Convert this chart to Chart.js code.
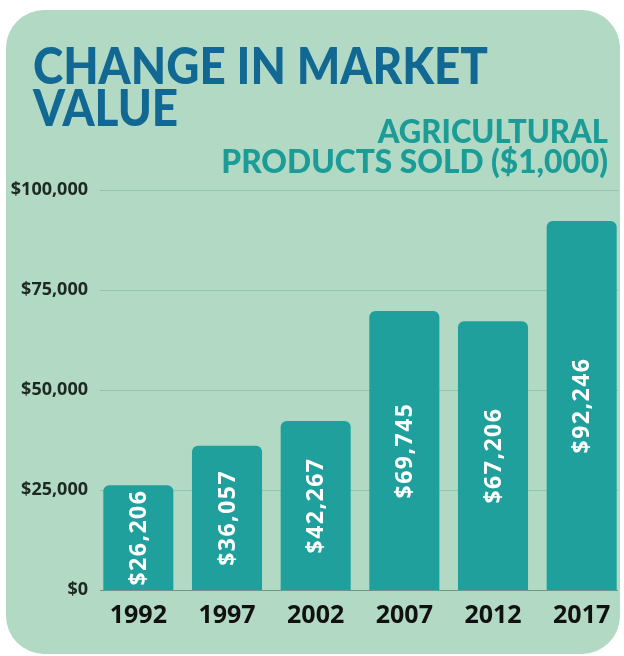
<!DOCTYPE html>
<html>
<head>
<meta charset="utf-8">
<script src="https://cdn.jsdelivr.net/npm/chart.js@4"></script>
<style>
    html, body { margin: 0; padding: 0; background: #ffffff; width: 624px; height: 656px; overflow: hidden; }
    #karte {
        position: absolute; left: 6px; top: 10px; width: 614px; height: 644px;
        background: #b2d9c4; border-radius: 38px;
    }
    #box { position: absolute; left: 0; top: 0; width: 640px; height: 656px; }
</style>
</head>
<body>
<div id="karte"></div>
<div id="box"><canvas id="chart"></canvas></div>
<script>
// Werte (in $1.000)
var jahre = ["1992", "1997", "2002", "2007", "2012", "2017"];
var werte = [26206, 36057, 42267, 69745, 67206, 92246];
var yTicks = [0, 25000, 50000, 75000, 100000];
var titel = ["CHANGE IN MARKET", "VALUE"];
var untertitel = ["AGRICULTURAL", "PRODUCTS SOLD ($1,000)"];

function geld(v) {
    return "$" + v.toLocaleString("en-US");
}

//Text etwas schmaler zeichnen (Faktor k)
function schmal(ctx, text, x, y, k) {
    ctx.save();
    ctx.translate(x, y);
    ctx.scale(k, 1);
    ctx.fillText(text, 0, 0);
    ctx.restore();
}

//Ueberschriften
var titelPlugin = {
    id: "titel",
    beforeDraw: function (chart) {
        var ctx = chart.ctx;
        ctx.save();
        ctx.textBaseline = "alphabetic";
        ctx.fillStyle = "#116893";
        ctx.font = "900 51px Lato";
        ctx.textAlign = "left";
        var k = 455 / ctx.measureText(titel[0]).width;
        schmal(ctx, titel[0], 33, 84, k);
        schmal(ctx, titel[1], 33, 126, k);
        ctx.fillStyle = "#1b9c97";
        ctx.font = "900 32px Lato";
        ctx.textAlign = "right";
        schmal(ctx, untertitel[0], 608, 143, 0.97);
        schmal(ctx, untertitel[1], 608, 173, 0.99);
        ctx.restore();
    }
};

//Hilfslinien
var gitterPlugin = {
    id: "gitter",
    beforeDatasetsDraw: function (chart) {
        var ctx = chart.ctx;
        var y = chart.scales.y;
        ctx.save();
        ctx.lineWidth = 1;
        y.ticks.forEach(function (t) {
            var py = Math.round(y.getPixelForValue(t.value)) + 0.5;
            ctx.strokeStyle = t.value == 0 ? "#6f9583" : "#93c2ab";
            ctx.beginPath();
            ctx.moveTo(100, py);
            ctx.lineTo(618, py);
            ctx.stroke();
        });
        ctx.restore();
    }
};

//Werte in die Balken schreiben
var wertPlugin = {
    id: "werte",
    afterDatasetsDraw: function (chart) {
        var ctx = chart.ctx;
        var meta = chart.getDatasetMeta(0);
        ctx.save();
        ctx.fillStyle = "#ffffff";
        ctx.font = "bold 23px 'Open Sans'";
        ctx.textAlign = "center";
        ctx.textBaseline = "middle";
        ctx.letterSpacing = "1.5px";
        meta.data.forEach(function (bar, i) {
            var mitte = (bar.y + bar.base) / 2;
            ctx.save();
            ctx.translate(bar.x + 1, mitte);
            ctx.rotate(-Math.PI / 2);
            ctx.fillText(geld(werte[i]), 0, 0);
            ctx.restore();
        });
        ctx.restore();
    }
};

var canvas = document.getElementById("chart");
var myChart = new Chart(canvas, {
    type: "bar",
    data: {
        labels: jahre,
        datasets: [{
            data: werte,
            backgroundColor: "#1fa09d",
            borderRadius: 6,
            borderSkipped: "start",
            barPercentage: 0.79,
            categoryPercentage: 1
        }]
    },
    options: {
        responsive: true,
        maintainAspectRatio: false,
        animation: false,
        layout: {
            padding: { top: 190, right: 14, bottom: 0, left: 0 }
        },
        plugins: {
            legend: { display: false },
            tooltip: { enabled: false }
        },
        scales: {
            y: {
                min: yTicks[0],
                max: yTicks[yTicks.length - 1],
                border: { display: false },
                grid: { display: false, drawTicks: false },
                afterFit: function (scale) { scale.width = 94; },
                afterBuildTicks: function (scale) {
                    scale.ticks = yTicks.map(function (v) { return { value: v }; });
                },
                ticks: {
                    padding: 6,
                    color: "#1c2a22",
                    font: { family: "'Open Sans'", size: 18, weight: "bold" },
                    callback: function (v) { return geld(v); }
                }
            },
            x: {
                border: { display: false },
                grid: { display: false, drawTicks: false },
                afterFit: function (scale) { scale.height = 66; },
                ticks: {
                    padding: 11,
                    color: "#111111",
                    font: { family: "'Open Sans'", size: 25, weight: "bold" }
                }
            }
        }
    },
    plugins: [gitterPlugin, wertPlugin, titelPlugin]
});
</script>
</body>
</html>
